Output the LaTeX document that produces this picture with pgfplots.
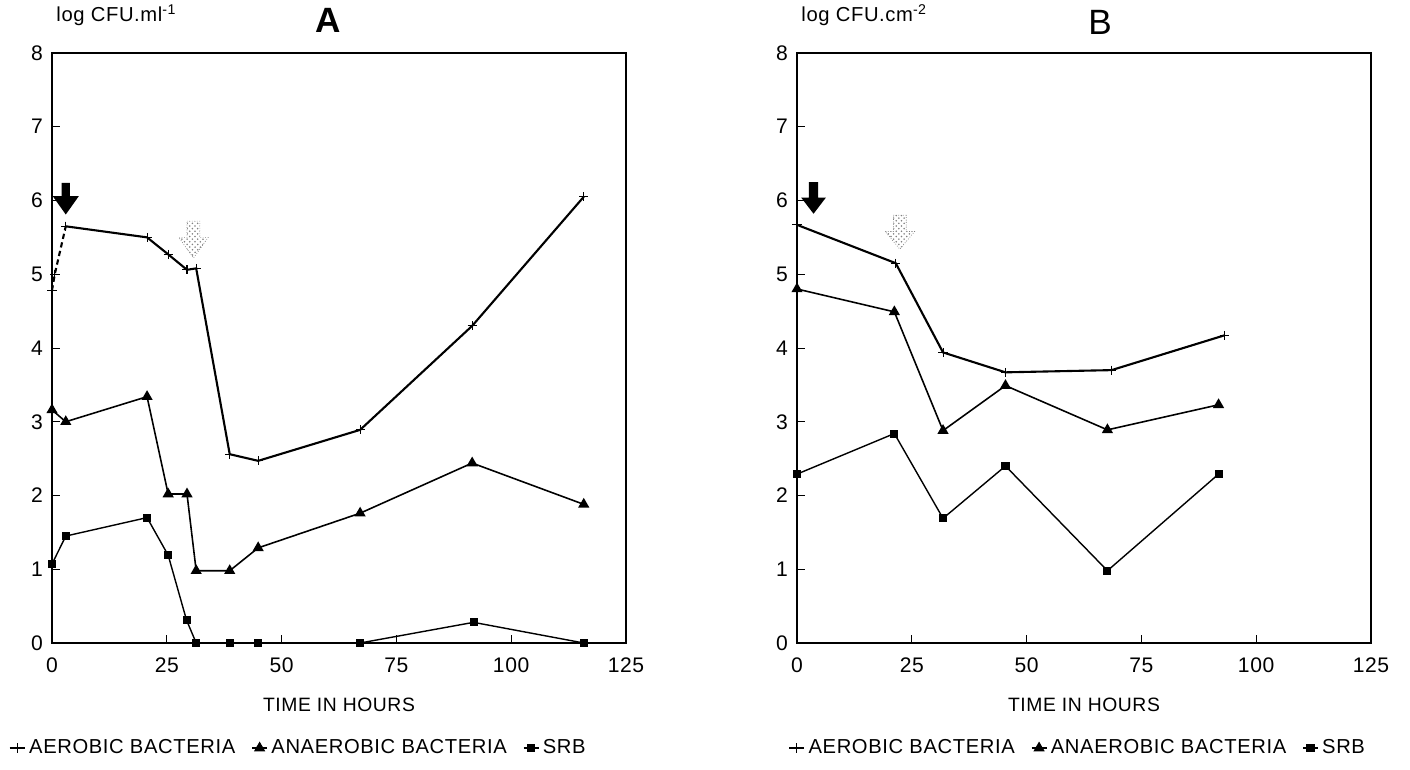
\documentclass[border=0pt]{standalone}
\usepackage{fontspec}
\setmainfont[LetterSpace=3]{Liberation Sans}
\usepackage{pgfplots}
\pgfplotsset{compat=1.18}
\usetikzlibrary{patterns}

% 1 px of the reference = 0.02cm
\pgfplotsset{
  panel/.style={
    scale only axis, width=11.48cm, height=11.8cm,
    xmin=0, xmax=125, ymin=0, ymax=8,
    xtick={0,25,50,75,100,125}, ytick={0,1,2,3,4,5,6,7,8},
    xtick pos=lower, ytick pos=lower,
    tick align=inside, major tick length=0.16cm,
    axis line style={line width=0.6pt},
    tick style={black, line width=0.5pt},
    /pgf/number format/assume math mode=true,
    tick label style={font=\fontsize{12}{14}\selectfont},
    xticklabel shift=0.18cm, yticklabel shift=0.06cm,
    xlabel={TIME IN HOURS},
    xlabel style={at={(axis description cs:0.5,-0.105)}, anchor=center, font=\fontsize{11}{13}\selectfont},
    legend style={draw=none, fill=none, legend columns=3, anchor=center,
      font=\fontsize{11.5}{13}\selectfont, inner sep=0pt,
      /tikz/every even column/.append style={column sep=0.25cm}},
    legend image code/.code={\draw[mark repeat=2, mark phase=2, #1] plot coordinates {(0cm,0cm) (0.15cm,0cm) (0.3cm,0cm)};},
    clip=false,
  },
  aer/.style={black, line width=1.2pt, mark=+, mark size=2.6pt, mark options={line width=0.6pt, solid}},
  ana/.style={black, line width=0.9pt, mark=triangle*, mark size=2.8pt, mark options={solid}},
  srb/.style={black, line width=0.8pt, mark=square*, mark size=1.9pt, mark options={solid}},
}

\begin{document}
\begin{tikzpicture}
\useasboundingbox (0,0) rectangle (28.2cm,15.38cm);

% ---------------- panel A
\begin{axis}[panel, at={(1.04cm,2.52cm)}, anchor=south west,
  legend style={at={(axis description cs:0.43,-0.178)}}]
  \addplot[aer, densely dashed, forget plot] coordinates {(0,4.78) (0.6,5.0) (3,5.65)};
  \addplot[aer] coordinates {
    (3,5.65) (20.7,5.50) (25.3,5.27) (29.4,5.06) (31.4,5.08) (38.7,2.56)
    (44.9,2.47) (67.1,2.89) (91.5,4.30) (115.8,6.05)};
  \addlegendentry{AEROBIC BACTERIA}
  \addplot[ana] coordinates {
    (0,3.16) (3,3.0) (20.7,3.34) (25.3,2.02) (29.4,2.02) (31.4,0.98)
    (38.7,0.98) (44.9,1.29) (67.1,1.76) (91.5,2.44) (115.8,1.88)};
  \addlegendentry{ANAEROBIC BACTERIA}
  \addplot[srb] coordinates {
    (0,1.07) (3,1.45) (20.7,1.70) (25.3,1.19) (29.3,0.31) (31.4,0)
    (38.7,0) (44.9,0) (67.1,0) (91.8,0.28) (115.8,0)};
  \addlegendentry{SRB}
  % arrows
  \fill[black] (axis cs:2.1,6.24) -- (axis cs:3.9,6.24) -- (axis cs:3.9,6.06) -- (axis cs:5.85,6.06)
    -- (axis cs:3,5.81) -- (axis cs:0.15,6.06) -- (axis cs:2.1,6.06) -- cycle;
  \draw[gray, densely dotted, pattern=crosshatch dots, pattern color=gray]
    (axis cs:29.4,5.72) -- (axis cs:32.2,5.72) -- (axis cs:32.2,5.50) -- (axis cs:34.0,5.50)
    -- (axis cs:30.8,5.22) -- (axis cs:27.6,5.50) -- (axis cs:29.4,5.50) -- cycle;
  \node[font=\fontsize{11.5}{13}\selectfont, anchor=west] at (axis description cs:-0.003,1.064) {log CFU.ml\textsuperscript{-1}};
  \node[font=\bfseries\fontsize{20}{22}\selectfont] at (axis description cs:0.481,1.056) {A};
\end{axis}

% ---------------- panel B
\begin{axis}[panel, at={(15.94cm,2.52cm)}, anchor=south west,
  legend style={at={(axis description cs:0.49,-0.178)}}]
  \addplot[aer] coordinates {
    (0,5.67) (21.5,5.15) (31.8,3.94) (45.4,3.67) (68.5,3.70) (93,4.17)};
  \addlegendentry{AEROBIC BACTERIA}
  \addplot[ana] coordinates {
    (0,4.80) (21.2,4.49) (31.8,2.88) (45.4,3.49) (67.6,2.89) (91.8,3.23)};
  \addlegendentry{ANAEROBIC BACTERIA}
  \addplot[srb] coordinates {
    (0,2.29) (21.2,2.84) (31.8,1.69) (45.4,2.40) (67.6,0.98) (91.8,2.29)};
  \addlegendentry{SRB}
  \fill[black] (axis cs:2.6,6.25) -- (axis cs:4.6,6.25) -- (axis cs:4.6,6.04) -- (axis cs:6.3,6.04)
    -- (axis cs:3.6,5.82) -- (axis cs:0.9,6.04) -- (axis cs:2.6,6.04) -- cycle;
  \draw[gray, densely dotted, pattern=crosshatch dots, pattern color=gray]
    (axis cs:21.0,5.80) -- (axis cs:23.8,5.80) -- (axis cs:23.8,5.58) -- (axis cs:25.6,5.58)
    -- (axis cs:22.4,5.34) -- (axis cs:19.2,5.58) -- (axis cs:21.0,5.58) -- cycle;
  \node[font=\fontsize{11.5}{13}\selectfont, anchor=west] at (axis description cs:-0.003,1.064) {log CFU.cm\textsuperscript{-2}};
  \node[font=\fontsize{20}{22}\selectfont] at (axis description cs:0.528,1.052) {B};
\end{axis}
\end{tikzpicture}
\end{document}
